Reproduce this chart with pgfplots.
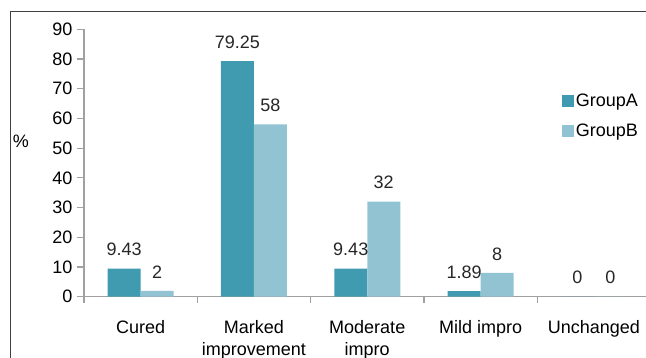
\documentclass[border=0pt]{standalone}
\usepackage{pgfplots}
\pgfplotsset{compat=1.18}
\usepackage{fontspec}
\setmainfont{Liberation Sans}
\definecolor{grpA}{RGB}{64,154,176}
\definecolor{grpB}{RGB}{146,195,211}
\definecolor{axgray}{RGB}{160,160,160}
\begin{document}
\begin{tikzpicture}
\useasboundingbox (0,0) rectangle (646pt,358pt);
\draw[color=black!75, line width=1pt] (10pt,0pt) -- (10pt,346pt) -- (646pt,346pt);
\begin{axis}[
  at={(84pt,61.3pt)}, anchor=south west,
  x=113.3pt, y=2.971pt,
  xmin=-0.5, xmax=4.46, ymin=0, ymax=90,
  axis x line*=bottom, axis y line*=left,
  axis line style={axgray, line width=1.2pt, -},
  ybar=0pt, bar width=33pt,
  xtick={0,1,2,3,4},
  xticklabels={Cured, {Marked\\improvement}, {Moderate\\impro}, Mild impro, Unchanged},
  xticklabel style={align=center, font=\fontsize{18}{22}\selectfont, yshift=-13pt},
  major x tick style={draw=none},
  minor xtick={-0.5,0.5,1.5,2.5,3.5},
  minor tick length=6pt,
  minor x tick style={axgray, line width=1.2pt},
  ytick={0,10,...,90},
  tick align=outside,
  major tick length=7pt,
  y tick style={axgray, line width=1.2pt},
  yticklabel style={font=\fontsize{18}{21}\selectfont, xshift=-1pt},
  /pgf/number format/assume math mode=true,
  ylabel={\%}, ylabel style={rotate=-90, font=\fontsize{18}{21}\selectfont, at={(rel axis cs:0,0.58)}, anchor=center, xshift=-63pt},
  point meta=explicit symbolic,
  nodes near coords,
  nodes near coords style={font=\fontsize{18}{21}\selectfont, text=black!85, yshift=9pt},
  legend style={at={(rel axis cs:0.85,0.765)}, anchor=north west, draw=none, fill=none,
    font=\fontsize{18}{21}\selectfont, row sep=12pt, inner sep=0pt,
    /tikz/every even column/.append style={column sep=4pt}},
  legend cell align=left,
  legend image code/.code={\fill[#1] (0pt,-6pt) rectangle (12pt,6pt);},
]
\addplot[fill=grpA, draw=none] coordinates {(0,9.43)[9.43] (1,79.25)[79.25] (2,9.43)[9.43] (3,1.89)[1.89] (4,0)[0]};
\addplot[fill=grpB, draw=none] coordinates {(0,2)[2] (1,58)[58] (2,32)[32] (3,8)[8] (4,0)[0]};
\legend{GroupA, GroupB}
\end{axis}
\end{tikzpicture}
\end{document}
